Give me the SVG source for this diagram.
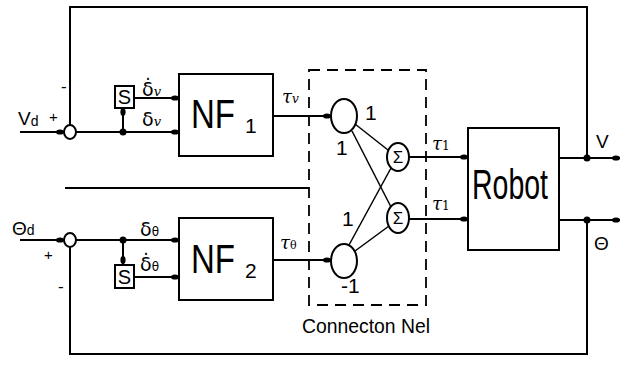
<svg xmlns="http://www.w3.org/2000/svg" width="627" height="370" viewBox="0 0 627 370">
<style>
.ln{stroke:#000;stroke-width:2;fill:none}
.thin{stroke:#000;stroke-width:1.5;fill:none}
.bx{stroke:#000;stroke-width:2;fill:#fff}
.dash{stroke:#000;stroke-width:1.8;fill:none;stroke-dasharray:11 7}
.big{font-family:"Liberation Sans",sans-serif;fill:#000}
.lab{font-family:"Liberation Sans",sans-serif;fill:#000}
.gr{font-family:"DejaVu Serif","Liberation Serif",serif;font-style:italic;fill:#000}
.gd{font-family:"DejaVu Sans",sans-serif;fill:#000}
.dot{fill:#000}
</style>
<defs>
<marker id="blob" markerUnits="userSpaceOnUse" markerWidth="10" markerHeight="8" refX="9" refY="4" orient="auto">
<ellipse cx="5" cy="4" rx="4" ry="2.6" fill="#000"/>
</marker>
</defs>
<rect width="627" height="370" fill="#fff"/>
<g id="connectors">
<polyline class="ln" points="70,125 70,7 587,7 587,158"/>
<line class="ln" x1="20" y1="132" x2="64" y2="132" marker-end="url(#blob)"/>
<line class="ln" x1="76" y1="132" x2="179" y2="132" marker-end="url(#blob)"/>
<line class="ln" x1="123" y1="132" x2="123" y2="108" marker-end="url(#blob)"/>
<line class="ln" x1="134" y1="98" x2="179" y2="98" marker-end="url(#blob)"/>
<line class="ln" x1="65" y1="188" x2="309" y2="188"/>
<line class="ln" x1="20" y1="240" x2="64" y2="240" marker-end="url(#blob)"/>
<line class="ln" x1="76" y1="240" x2="179" y2="240" marker-end="url(#blob)"/>
<line class="ln" x1="123" y1="240" x2="123" y2="264" marker-end="url(#blob)"/>
<line class="ln" x1="134" y1="277" x2="179" y2="277" marker-end="url(#blob)"/>
<polyline class="ln" points="70,247 70,354 587,354 587,220"/>
<line class="ln" x1="273" y1="116" x2="331" y2="116" marker-end="url(#blob)"/>
<line class="ln" x1="273" y1="260" x2="331" y2="260" marker-end="url(#blob)"/>
<line class="thin" x1="355" y1="124" x2="388" y2="150"/>
<line class="thin" x1="352" y1="131" x2="391" y2="207"/>
<line class="thin" x1="349" y1="245" x2="391" y2="168"/>
<line class="thin" x1="355" y1="251" x2="389" y2="226"/>
<line class="ln" x1="409" y1="157" x2="468" y2="157" marker-end="url(#blob)"/>
<line class="ln" x1="409" y1="219" x2="468" y2="219" marker-end="url(#blob)"/>
<line class="ln" x1="559" y1="158" x2="620" y2="158" marker-end="url(#blob)"/>
<line class="ln" x1="559" y1="220" x2="620" y2="220" marker-end="url(#blob)"/>
<circle class="dot" cx="123" cy="132" r="3.5"/>
<circle class="dot" cx="123" cy="240" r="3.5"/>
<circle class="dot" cx="587" cy="158" r="3.5"/>
<circle class="dot" cx="587" cy="220" r="3.5"/>
</g>
<g id="sum-v">
<ellipse class="bx" cx="70" cy="132" rx="6" ry="7"/>
<text class="lab" x="18" y="125" font-size="19">V<tspan font-size="14" dy="1">d</tspan></text>
<text class="lab" x="49" y="122" font-size="15">+</text>
<text class="lab" x="61" y="92" font-size="17">-</text>
</g>
<g id="sum-theta">
<ellipse class="bx" cx="70" cy="240" rx="6" ry="7"/>
<text class="lab" x="12" y="235" font-size="19">Θ<tspan font-size="14">d</tspan></text>
<text class="lab" x="44" y="260" font-size="15">+</text>
<text class="lab" x="58" y="292" font-size="17">-</text>
</g>
<g id="s-v">
<rect class="bx" x="115" y="86" width="19" height="22"/>
<text class="lab" x="124.5" y="104" font-size="20" text-anchor="middle">S</text>
<text class="gd" x="142" y="96" font-size="19">δ̇<tspan class="gr" font-size="13">v</tspan></text>
<text class="gd" x="142" y="126" font-size="19">δ<tspan class="gr" font-size="13">v</tspan></text>
</g>
<g id="s-theta">
<rect class="bx" x="115" y="265" width="19" height="23"/>
<text class="lab" x="124.5" y="284" font-size="20" text-anchor="middle">S</text>
<text class="gd" x="140" y="236" font-size="19">δ<tspan font-size="12">θ</tspan></text>
<text class="gd" x="140" y="271" font-size="19">δ̇<tspan font-size="12">θ</tspan></text>
</g>
<g id="nf1">
<rect class="bx" x="179" y="74" width="94" height="82"/>
<text class="big" x="191" y="128" font-size="40" textLength="44" lengthAdjust="spacingAndGlyphs">NF</text>
<text class="big" x="245" y="133" font-size="21">1</text>
<text class="gr" x="282" y="103" font-size="18">τ<tspan font-size="12">v</tspan></text>
</g>
<g id="nf2">
<rect class="bx" x="179" y="218" width="94" height="82"/>
<text class="big" x="191" y="273" font-size="40" textLength="44" lengthAdjust="spacingAndGlyphs">NF</text>
<text class="big" x="245" y="278" font-size="21">2</text>
<text class="gr" x="280" y="249" font-size="18">τ<tspan font-size="11" font-style="normal">θ</tspan></text>
</g>
<g id="connection-net">
<rect class="dash" x="309" y="70" width="117" height="235"/>
<ellipse class="bx" cx="344" cy="116" rx="13" ry="17"/>
<ellipse class="bx" cx="344" cy="261" rx="13" ry="17"/>
<ellipse class="bx" cx="398" cy="157" rx="11" ry="14"/>
<ellipse class="bx" cx="398" cy="218" rx="11" ry="15"/>
<text class="lab" x="398" y="163" font-size="17" text-anchor="middle">Σ</text>
<text class="lab" x="398" y="224" font-size="17" text-anchor="middle">Σ</text>
<text class="lab" x="365" y="120" font-size="21">1</text>
<text class="lab" x="336" y="155" font-size="21">1</text>
<text class="lab" x="342" y="226" font-size="21">1</text>
<text class="lab" x="341" y="293" font-size="21">-1</text>
<text class="lab" x="302" y="333" font-size="20" textLength="128" lengthAdjust="spacingAndGlyphs">Connecton Nel</text>
</g>
<g id="robot">
<rect class="bx" x="468" y="128" width="91" height="122"/>
<text class="big" x="472" y="199" font-size="42" textLength="76" lengthAdjust="spacingAndGlyphs">Robot</text>
<text class="gr" x="432" y="150" font-size="18">τ<tspan font-size="12" font-style="normal">1</tspan></text>
<text class="gr" x="432" y="210" font-size="18">τ<tspan font-size="12" font-style="normal">1</tspan></text>
<text class="lab" x="596" y="148" font-size="19">V</text>
<text class="lab" x="594" y="250" font-size="19">Θ</text>
</g>
</svg>
